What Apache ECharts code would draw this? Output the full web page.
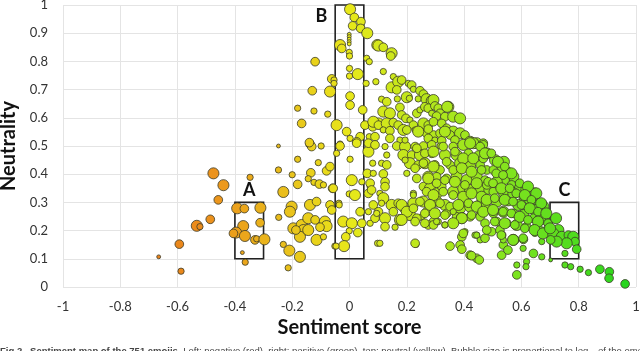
<!DOCTYPE html>
<html lang="en">
<head>
<meta charset="UTF-8">
<title>Sentiment map of emojis</title>
<script src="https://cdn.jsdelivr.net/npm/echarts@6/dist/echarts.min.js"></script>
<style>
html, body { margin: 0; padding: 0; background: #fff; }
#chart { width: 640px; height: 351px; }
</style>
</head>
<body>
<div id="chart"></div>
<script>
// each emoji: [sentiment score, neutrality, log10 frequency class]
const negativeEmojis = [
[-0.666,0.107,1],[-0.588,0.056,2],[-0.594,0.152,3],[-0.533,0.217,4],[-0.522,0.214,2],
[-0.486,0.240,3],[-0.458,0.309,3],[-0.440,0.361,4],[-0.475,0.403,4],[-0.347,0.389,2],
[-0.392,0.279,4],[-0.367,0.278,3],[-0.311,0.281,4],[-0.312,0.228,3],[-0.371,0.216,4],
[-0.396,0.193,4],[-0.365,0.181,4],[-0.405,0.190,3],[-0.330,0.167,3],[-0.324,0.171,2],
[-0.297,0.169,4],[-0.374,0.122,1],[-0.364,0.088,2]
];
const mildNegativeEmojis = [
[-0.248,0.500,1],[-0.181,0.453,2],[-0.248,0.415,2],[-0.200,0.398,2],[-0.181,0.364,3],
[-0.231,0.337,4],[-0.135,0.405,3],[-0.144,0.384,2],[-0.124,0.371,2],[-0.105,0.365,3],
[-0.091,0.362,2],[-0.109,0.441,2],[-0.080,0.412,3],[-0.068,0.427,3],[-0.059,0.350,3],
[-0.138,0.507,3],[-0.132,0.498,3],[-0.099,0.500,2],
[-0.202,0.285,4],[-0.208,0.267,4],[-0.247,0.247,2],[-0.196,0.208,4],[-0.167,0.220,4],
[-0.161,0.202,4],[-0.173,0.178,4],[-0.144,0.244,4],[-0.138,0.291,4],[-0.115,0.303,3],
[-0.144,0.202,4],[-0.115,0.167,4],[-0.086,0.232,4],[-0.080,0.216,4],[-0.103,0.212,3],
[-0.120,0.238,3],[-0.068,0.291,3],[-0.062,0.273,3],[-0.210,0.129,4],[-0.173,0.107,4],
[-0.214,0.068,2],[-0.231,0.151,2],[-0.091,0.178,2],[-0.051,0.145,2],[-0.187,0.202,3],
[-0.120,0.799,3],[-0.062,0.738,3],[-0.054,0.734,2],[-0.054,0.722,2],[-0.130,0.696,3],
[-0.068,0.693,4],[-0.181,0.634,2],[-0.124,0.624,2],[-0.076,0.613,2],[-0.167,0.580,3],
[-0.140,0.512,3]
];
const neutralEmojis = [
[0.002,0.985,4],[0.017,0.956,3],[0.040,0.941,3],[0.011,0.926,3],[0.039,0.917,3],
[-0.001,0.896,1],[-0.001,0.888,1],[-0.001,0.879,1],[-0.001,0.870,1],[-0.001,0.862,1],
[-0.033,0.858,4],[-0.027,0.846,3],[-0.001,0.832,2],[0.000,0.819,2],[0.000,0.775,2],
[0.000,0.748,2],[0.029,0.755,4],[0.002,0.677,3],[0.002,0.645,3],[0.046,0.628,3],
[-0.045,0.574,4],[-0.010,0.551,3],[0.002,0.527,2],[0.037,0.533,3],[0.025,0.515,3],
[-0.033,0.507,2],[-0.033,0.500,3],[-0.045,0.474,2],[0.002,0.453,2],[0.025,0.510,3],
[-0.057,0.350,3],[0.008,0.379,4],[0.043,0.373,2],[-0.001,0.330,2],[0.019,0.326,4],
[-0.037,0.297,2],[0.037,0.267,3],[-0.022,0.232,4],[0.008,0.226,4],[-0.001,0.199,2],
[0.029,0.193,3],[0.043,0.226,3],[-0.013,0.178,3],[-0.019,0.145,4],[-0.047,0.145,2],
[-0.036,0.291,2]
];
const mildPositiveEmojis = [
[0.062,0.900,4],[0.097,0.858,4],[0.101,0.856,4],[0.118,0.850,3],[0.147,0.829,4],
[0.144,0.819,3],[0.060,0.811,2],[0.069,0.799,2],[0.058,0.722,2],[0.092,0.728,2],
[0.118,0.764,2],[0.153,0.746,2],[0.147,0.708,4],[0.170,0.728,4],[0.182,0.734,3],
[0.165,0.699,3],[0.054,0.574,3],[0.069,0.533,2],[0.101,0.580,4],[0.081,0.568,3],
[0.066,0.480,4],[0.066,0.510,3],[0.062,0.403,3],[0.066,0.332,3],[0.072,0.356,2],
[0.066,0.267,2],[0.072,0.226,2],[0.101,0.267,3],[0.098,0.155,2],[0.089,0.244,3],
[0.112,0.666,2],[0.130,0.657,3],[0.167,0.667,2],[0.118,0.622,4],[0.141,0.616,4],
[0.176,0.637,3],[0.182,0.610,3],[0.197,0.598,3],[0.083,0.586,4],[0.101,0.574,3],
[0.130,0.580,4],[0.153,0.583,3],[0.170,0.574,3],[0.118,0.557,2],[0.141,0.554,3],
[0.188,0.557,4],[0.089,0.533,3],[0.141,0.527,3],[0.176,0.521,2],
[0.089,0.504,3],[0.124,0.498,2],[0.165,0.500,3],[0.194,0.498,4],[0.130,0.468,2],
[0.188,0.468,4],[0.081,0.439,2],[0.112,0.439,2],[0.130,0.433,3],[0.083,0.403,2],
[0.118,0.401,3],[0.200,0.403,2],[0.124,0.373,3],[0.124,0.356,3],[0.072,0.368,3],
[0.077,0.344,3],[0.106,0.332,2],[0.118,0.315,4],[0.112,0.297,2],[0.083,0.291,3],
[0.147,0.291,4],[0.170,0.297,3],[0.194,0.279,4],[0.095,0.261,2],[0.124,0.244,4],
[0.153,0.267,3],[0.176,0.238,4],[0.159,0.212,2],[0.124,0.214,3],[0.106,0.155,2]
];
const positiveEmojis = [
[0.200,0.673,4],[0.209,0.669,2],[0.205,0.722,2],[0.217,0.716,3],[0.223,0.701,2],
[0.246,0.696,3],[0.258,0.684,3],[0.240,0.667,2],[0.269,0.666,4],[0.287,0.660,4],
[0.293,0.663,4],[0.345,0.639,4],[0.235,0.616,3],[0.246,0.628,2],[0.263,0.639,3],
[0.275,0.634,3],[0.298,0.642,3],[0.310,0.634,3],[0.341,0.639,4],[0.316,0.616,3],
[0.287,0.616,2],[0.304,0.606,3],[0.333,0.604,3],[0.362,0.604,4],[0.386,0.598,4],
[0.211,0.592,2],[0.223,0.574,3],[0.258,0.580,4],[0.275,0.574,3],[0.293,0.586,3],
[0.322,0.580,3],[0.339,0.563,3],[0.362,0.551,4],[0.386,0.545,4],[0.403,0.539,3],
[0.229,0.557,2],[0.246,0.551,3],[0.269,0.545,3],[0.293,0.539,3],[0.316,0.545,3],
[0.333,0.545,2],[0.351,0.539,3],[0.368,0.521,3],[0.421,0.515,4],[0.444,0.510,4],
[0.467,0.510,3],[0.275,0.527,3],[0.298,0.521,2],[0.322,0.519,3],
[0.229,0.498,3],[0.258,0.500,3],[0.287,0.504,3],[0.316,0.500,2],[0.362,0.498,3],
[0.397,0.504,4],[0.432,0.510,4],[0.467,0.504,3],[0.217,0.468,3],[0.246,0.468,4],
[0.287,0.474,3],[0.333,0.468,4],[0.345,0.444,2],[0.374,0.468,4],[0.415,0.474,3],
[0.450,0.468,3],[0.479,0.474,4],[0.211,0.439,4],[0.240,0.433,3],[0.263,0.439,4],
[0.298,0.433,3],[0.316,0.415,3],[0.351,0.433,3],[0.386,0.439,4],[0.421,0.427,4],
[0.456,0.433,3],[0.479,0.415,3],[0.232,0.385,2],[0.275,0.391,4],[0.304,0.391,3],
[0.339,0.385,3],[0.374,0.391,4],[0.409,0.379,4],[0.444,0.391,4],[0.473,0.379,3],
[0.223,0.332,2],[0.258,0.356,3],[0.281,0.350,4],[0.304,0.332,4],[0.322,0.356,3],
[0.362,0.338,4],[0.397,0.350,4],[0.421,0.344,4],[0.456,0.350,4],[0.484,0.344,3],
[0.223,0.297,4],[0.258,0.303,4],[0.281,0.285,3],[0.304,0.303,4],[0.333,0.291,4],
[0.357,0.273,2],[0.386,0.279,4],[0.421,0.285,4],[0.456,0.291,4],[0.479,0.279,3],
[0.211,0.255,4],[0.252,0.249,2],[0.269,0.267,3],[0.235,0.244,3],[0.293,0.232,3],
[0.310,0.232,2],[0.339,0.261,3],[0.374,0.249,3],[0.392,0.244,4],[0.421,0.249,3],
[0.456,0.255,3],[0.275,0.220,3],[0.333,0.220,2],[0.403,0.196,2],[0.392,0.178,3],
[0.351,0.145,3],[0.386,0.149,3],[0.232,0.151,2],[0.421,0.113,3],[0.444,0.102,3],
[0.444,0.184,2],[0.456,0.167,2],[0.473,0.173,3],[0.392,0.134,3],[0.426,0.111,3],
[0.453,0.096,3],[0.438,0.184,2]
];
const positiveCoreEmojis = [
[0.200,0.557,3],[0.240,0.551,4],[0.275,0.560,3],[0.333,0.551,4],[0.194,0.521,2],
[0.235,0.492,3],[0.263,0.474,3],[0.293,0.480,4],[0.327,0.498,3],[0.368,0.480,3],
[0.421,0.510,4],[0.456,0.498,3],[0.397,0.456,4],[0.432,0.456,4],[0.467,0.456,3],
[0.194,0.450,2],[0.229,0.421,3],[0.258,0.439,3],[0.293,0.427,4],[0.339,0.444,3],
[0.362,0.415,3],[0.392,0.421,4],[0.426,0.409,4],[0.461,0.415,3],[0.235,0.385,3],
[0.275,0.385,4],[0.304,0.368,3],[0.333,0.379,3],[0.368,0.373,4],[0.403,0.362,3],
[0.444,0.368,4],[0.479,0.362,3],[0.269,0.338,3],[0.293,0.326,4],[0.327,0.338,3],
[0.362,0.326,3],[0.397,0.320,4],[0.426,0.332,4],[0.461,0.320,4],[0.223,0.326,2],
[0.246,0.303,3],[0.281,0.291,4],[0.316,0.297,3],[0.351,0.285,3],[0.380,0.291,4],
[0.415,0.297,3],[0.444,0.285,4],[0.476,0.291,3],[0.182,0.291,4],[0.200,0.267,4],
[0.223,0.279,3],[0.263,0.261,3],[0.298,0.261,4],[0.333,0.255,3],[0.362,0.267,2],
[0.392,0.244,4],[0.426,0.255,3],[0.456,0.249,3],[0.182,0.238,4],[0.229,0.232,3],
[0.293,0.220,3],[0.362,0.226,4],[0.397,0.190,3],[0.444,0.184,2],[0.263,0.226,3],
[0.304,0.232,2],[0.333,0.220,2],[0.229,0.155,3]
];
const veryPositiveEmojis = [
[0.473,0.474,4],[0.508,0.450,4],[0.539,0.444,4],[0.525,0.421,3],[0.554,0.409,3],
[0.572,0.391,4],[0.502,0.415,3],[0.543,0.379,3],[0.514,0.373,4],[0.484,0.373,3],
[0.566,0.362,3],[0.595,0.350,4],[0.613,0.344,3],[0.647,0.332,4],[0.502,0.338,3],
[0.537,0.338,4],[0.572,0.332,4],[0.607,0.315,3],[0.630,0.309,4],[0.659,0.297,3],
[0.677,0.285,4],[0.479,0.309,4],[0.514,0.303,4],[0.554,0.303,3],[0.589,0.291,4],
[0.618,0.279,3],[0.647,0.273,4],[0.682,0.261,3],[0.467,0.267,4],[0.502,0.261,3],
[0.537,0.267,4],[0.572,0.261,3],[0.607,0.255,4],[0.642,0.244,3],[0.665,0.238,4],
[0.694,0.226,3],[0.473,0.226,3],[0.514,0.232,3],[0.549,0.226,3],[0.584,0.220,4],
[0.618,0.214,3],[0.654,0.208,4],[0.688,0.196,4],[0.496,0.196,3],[0.531,0.184,3],
[0.572,0.167,4],[0.647,0.190,2],[0.671,0.161,2],[0.537,0.149,3],[0.479,0.202,3],
[0.525,0.202,3],[0.537,0.167,2],[0.607,0.169,3],[0.531,0.113,3],[0.584,0.078,2],
[0.584,0.043,3],[0.618,0.090,2],[0.616,0.072,2],[0.642,0.119,3],[0.671,0.107,2],
[0.495,0.474,3],[0.518,0.444,4],[0.542,0.427,3],[0.565,0.403,4],[0.512,0.403,3],
[0.536,0.397,3],[0.594,0.368,3],[0.623,0.356,4],[0.652,0.332,4],[0.501,0.368,3],
[0.530,0.350,4],[0.559,0.350,3],[0.582,0.332,3],[0.612,0.326,4],[0.635,0.309,3],
[0.669,0.297,4],[0.507,0.315,3],[0.542,0.309,4],[0.571,0.303,3],[0.600,0.291,3],
[0.629,0.279,4],[0.658,0.267,3],[0.687,0.261,4],[0.501,0.273,4],[0.536,0.267,3],
[0.565,0.261,3],[0.594,0.249,4],[0.623,0.238,3],[0.658,0.232,4],[0.693,0.226,3],
[0.507,0.232,3],[0.542,0.226,4],[0.577,0.220,3],[0.612,0.208,3],[0.646,0.202,4],
[0.675,0.190,4],[0.530,0.184,3],[0.571,0.167,4],[0.606,0.173,3],[0.553,0.131,3],
[0.606,0.137,2]
];
const extremePositiveEmojis = [
[0.721,0.244,4],[0.729,0.202,4],[0.711,0.190,4],[0.741,0.178,4],[0.764,0.184,3],
[0.781,0.178,4],[0.787,0.161,3],[0.758,0.155,4],[0.723,0.161,4],[0.793,0.134,3],
[0.752,0.119,2],[0.702,0.096,1],[0.700,0.208,4],[0.702,0.167,3],[0.752,0.078,2],
[0.772,0.072,2],[0.805,0.063,2],[0.834,0.051,2],[0.874,0.063,3],[0.907,0.054,3],
[0.906,0.031,3],[0.962,0.011,3]
];

// highlighted regions: [label, xFrom, xTo, yFrom, yTo]
const boxes = [
['A', -0.4, -0.3, 0.1, 0.3],
['B', -0.05, 0.05, 0.1, 1.0],
['C', 0.7, 0.8, 0.1, 0.3]
];

const xTicks = { min: -1, max: 1, step: 0.2 };
const yTicks = { min: 0, max: 1, step: 0.1 };

const allEmojis = [].concat(negativeEmojis, mildNegativeEmojis, neutralEmojis,
mildPositiveEmojis, positiveEmojis, positiveCoreEmojis, veryPositiveEmojis,
extremePositiveEmojis);

const font = 'Lato, "Open Sans", sans-serif';

const chart = echarts.init(document.getElementById('chart'));
chart.setOption({
animation: false,
grid: { left: 63, right: 4, top: 5, bottom: 64, outerBoundsMode: 'none', containLabel: false },
visualMap: {
show: false,
type: 'continuous',
dimension: 0,
min: -1,
max: 1,
inRange: { color: ['#e06a18', '#ec8e1c', '#e8e81a', '#8ee61e', '#1ed41e'] }
},
xAxis: {
type: 'value',
min: xTicks.min, max: xTicks.max, interval: xTicks.step,
name: 'Sentiment score',
nameLocation: 'middle',
nameGap: 30,
nameTextStyle: { fontFamily: font, fontWeight: 'bold', fontSize: 20, color: '#111' },
axisLine: { show: false },
axisTick: { show: false },
axisLabel: { fontFamily: font, fontSize: 13, color: '#333', margin: 13 },
splitLine: { lineStyle: { color: '#e4e4e4' } }
},
yAxis: {
type: 'value',
min: yTicks.min, max: yTicks.max, interval: yTicks.step,
name: 'Neutrality',
nameLocation: 'middle',
nameGap: 42,
nameTextStyle: { fontFamily: font, fontWeight: 'bold', fontSize: 20, color: '#111' },
axisLine: { show: false },
axisTick: { show: false },
axisLabel: { fontFamily: font, fontSize: 13, color: '#333', margin: 15 },
splitLine: { lineStyle: { color: '#e4e4e4' } }
},
series: [{
type: 'scatter',
data: allEmojis,
symbolSize: d => 1.5 + 2.4 * d[2],
itemStyle: { borderColor: '#3b3b2a', borderWidth: 0.8, opacity: 1 },
markArea: {
silent: true,
itemStyle: { color: 'rgba(0,0,0,0)', borderColor: '#222', borderWidth: 1.6 },
label: { fontFamily: font, fontWeight: 'bold', fontSize: 18, color: '#111' },
data: boxes.map(b => [
{ name: b[0], coord: [b[1], b[4]],
label: b[0] === 'B' ? { position: [-19, 3] } : { position: 'top', distance: 2 } },
{ coord: [b[2], b[3]] }
])
}
}],
graphic: [{
type: 'text',
left: 0,
top: 346,
style: {
text: '{b|Fig 2.  Sentiment map of the 751 emojis.} Left: negative (red), right: positive (green), top: neutral (yellow). Bubble size is proportional to log\u2081\u2080 of the emoji',
fontFamily: 'Liberation Sans, Arial, sans-serif',
fontSize: 9.5,
fill: '#444',
rich: { b: { fontWeight: 'bold', fontSize: 9.5, fontFamily: 'Liberation Sans, Arial, sans-serif' } }
}
}]
});
</script>
</body>
</html>
